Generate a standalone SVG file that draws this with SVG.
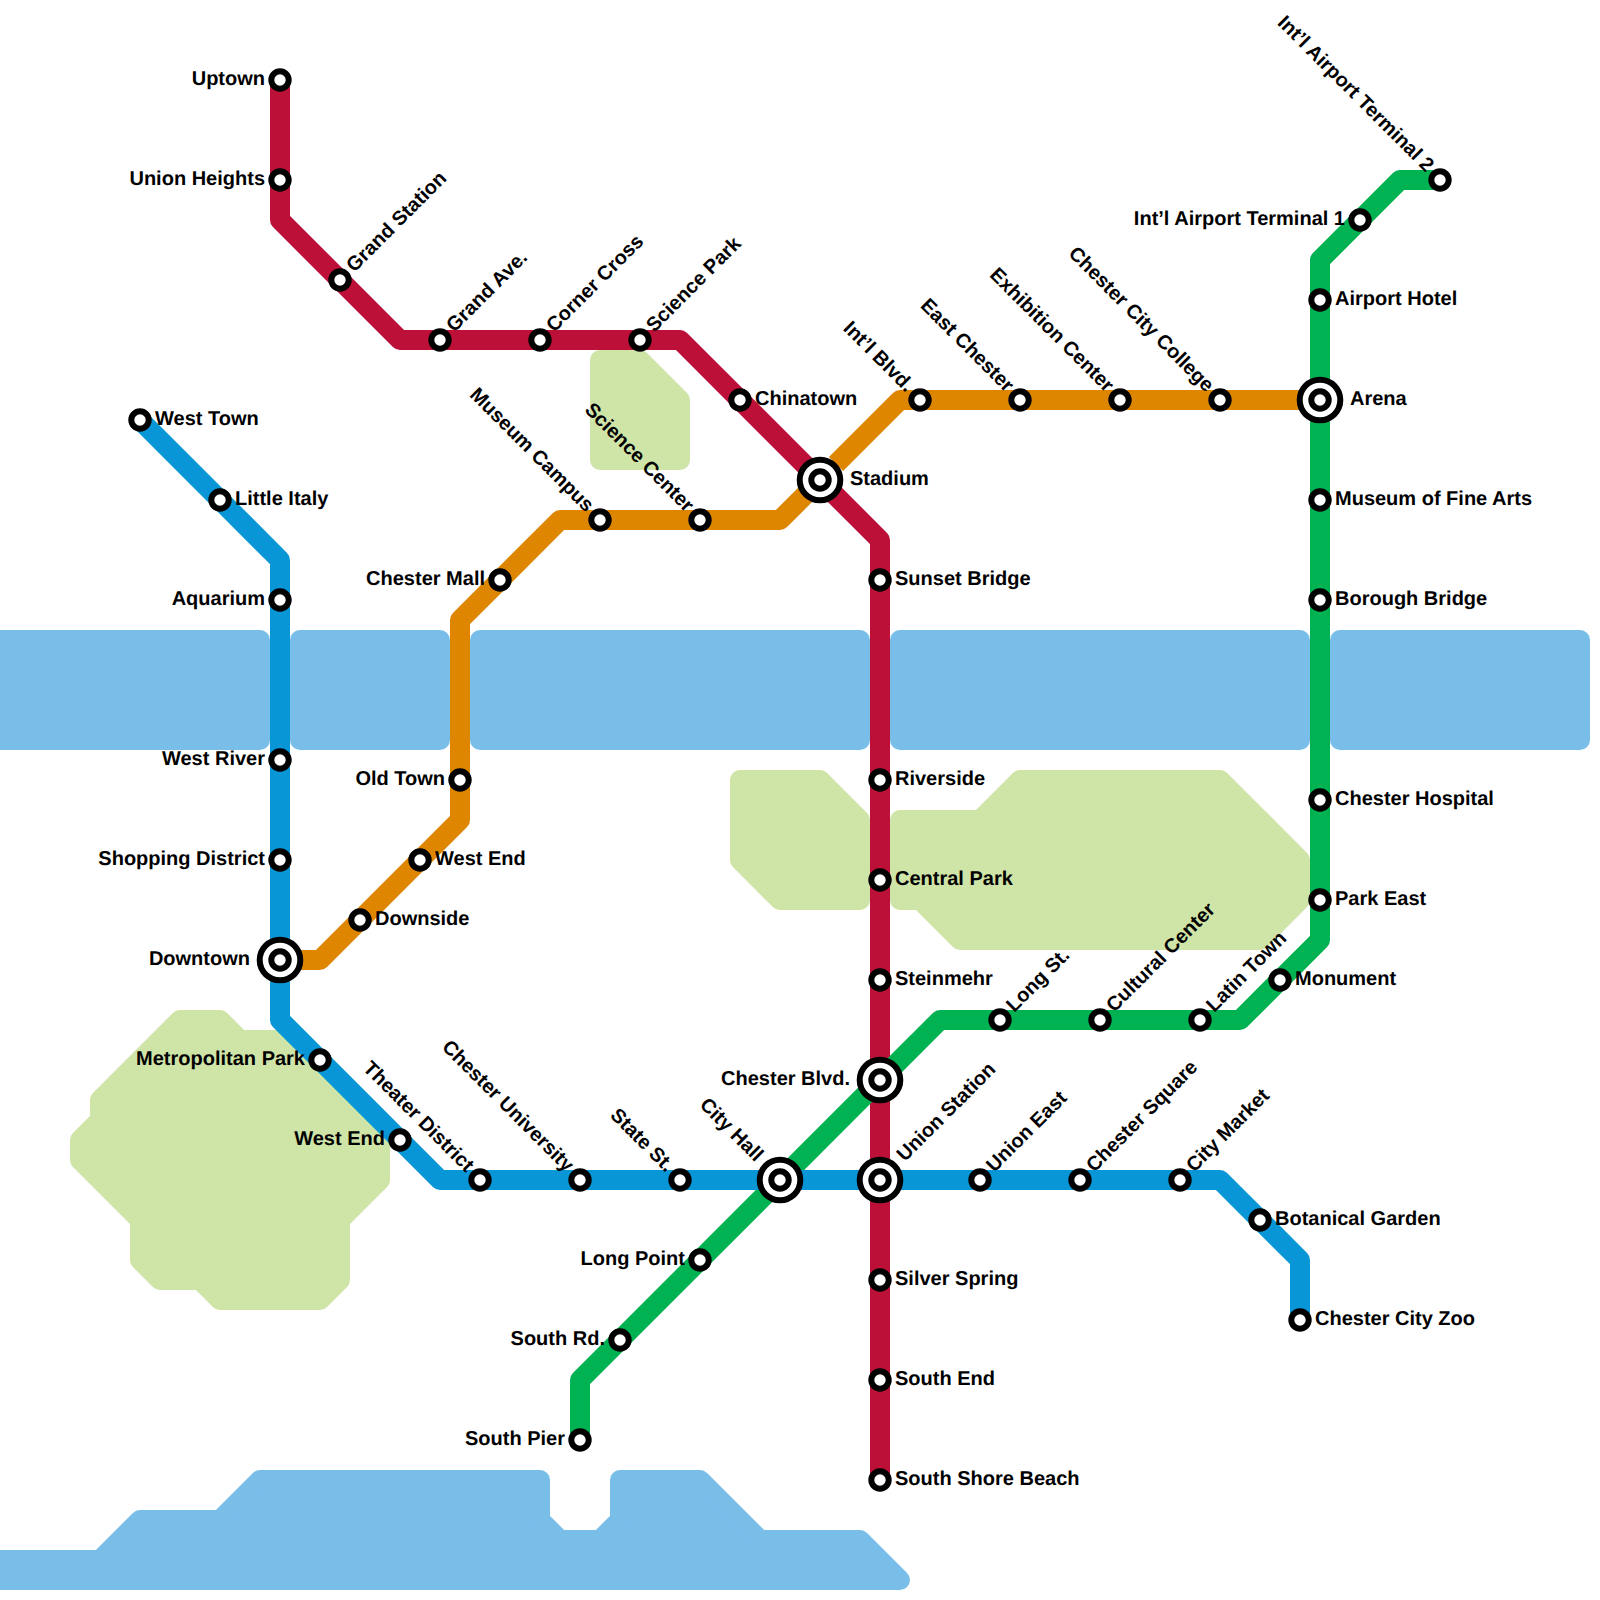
<svg xmlns="http://www.w3.org/2000/svg" width="1600" height="1600" viewBox="0 0 1600 1600">
<style>
.water{fill:#79bde9;stroke:#79bde9;stroke-width:20;stroke-linejoin:round}
.park{fill:#cfe4a7;stroke:#cfe4a7;stroke-width:20;stroke-linejoin:round}
.line{fill:none;stroke-width:20;stroke-linejoin:round}
.ring{fill:#fff;stroke:#000;stroke-width:6}
.outer{fill:#fff;stroke:#000;stroke-width:6}
text{font-family:"Liberation Sans",Arial,sans-serif;font-weight:bold;font-size:20px;fill:#000;text-rendering:geometricPrecision}
.e{text-anchor:end}
</style>
<defs>
<g id="stop"><circle class="ring" r="8.7"/></g>
<g id="hub"><circle class="outer" r="20.3"/><circle class="ring" r="8.7"/></g>
</defs>
<g id="water">
<path class="water" d="M-20 640H260V740H-20Z"/>
<path class="water" d="M300 640H440V740H300Z"/>
<path class="water" d="M480 640H860V740H480Z"/>
<path class="water" d="M900 640H1300V740H900Z"/>
<path class="water" d="M1340 640H1580V740H1340Z"/>
<path class="water" d="M-20 1560H100L140 1520H220L260 1480H540V1520L560 1540H600L620 1520V1480H700L760 1540H860L900 1580H-20Z"/>
</g>
<g id="parks">
<path class="park" d="M600 360H640L680 400V460H600Z"/>
<path class="park" d="M740 780H820L860 820V900H780L740 860Z"/>
<path class="park" d="M900 820H980L1020 780H1220L1300 860V900L1260 940H960L920 900H900Z"/>
<path class="park" d="M180 1020H220L240 1040H280L380 1140V1180L340 1220V1280L320 1300H220L200 1280H160L140 1260V1220L80 1160V1140L100 1120V1100Z"/>
</g>
<g id="connectors">
<path class="line" stroke="#bd1038" d="M280 80V220L400 340H680L880 540V1480"/>
<path class="line" stroke="#df8600" d="M280 960H320L460 820V620L560 520H780L805 495"/>
<path class="line" stroke="#df8600" d="M836 464L900 400H1320"/>
<path class="line" stroke="#00b251" d="M580 1440V1380L940 1020H1240L1320 940V260L1400 180H1440"/>
<path class="line" stroke="#0896d7" d="M140 420L280 560V1020L440 1180H1220L1300 1260V1320"/>
</g>
<g id="n-uptown"><use href="#stop" x="280" y="80"/><text class="e" transform="translate(280 80)" x="-15" y="5">Uptown</text></g>
<g id="n-union-heights"><use href="#stop" x="280" y="180"/><text class="e" transform="translate(280 180)" x="-15" y="5">Union Heights</text></g>
<g id="n-grand-station"><use href="#stop" x="340" y="280"/><text transform="translate(340 280) rotate(-45)" x="15" y="5">Grand Station</text></g>
<g id="n-grand-ave"><use href="#stop" x="440" y="340"/><text transform="translate(440 340) rotate(-45)" x="15" y="5">Grand Ave.</text></g>
<g id="n-corner-cross"><use href="#stop" x="540" y="340"/><text transform="translate(540 340) rotate(-45)" x="15" y="5">Corner Cross</text></g>
<g id="n-science-park"><use href="#stop" x="640" y="340"/><text transform="translate(640 340) rotate(-45)" x="15" y="5">Science Park</text></g>
<g id="n-chinatown"><use href="#stop" x="740" y="400"/><text transform="translate(740 400)" x="15" y="5">Chinatown</text></g>
<g id="n-stadium"><use href="#hub" x="820" y="480"/><text transform="translate(820 480)" x="30" y="5">Stadium</text></g>
<g id="n-sunset-bridge"><use href="#stop" x="880" y="580"/><text transform="translate(880 580)" x="15" y="5">Sunset Bridge</text></g>
<g id="n-riverside"><use href="#stop" x="880" y="780"/><text transform="translate(880 780)" x="15" y="5">Riverside</text></g>
<g id="n-central-park"><use href="#stop" x="880" y="880"/><text transform="translate(880 880)" x="15" y="5">Central Park</text></g>
<g id="n-steinmehr"><use href="#stop" x="880" y="980"/><text transform="translate(880 980)" x="15" y="5">Steinmehr</text></g>
<g id="n-chester-blvd"><use href="#hub" x="880" y="1080"/><text class="e" transform="translate(880 1080)" x="-30" y="5">Chester Blvd.</text></g>
<g id="n-union-station"><use href="#hub" x="880" y="1180"/><text transform="translate(880 1180) rotate(-45)" x="30" y="5">Union Station</text></g>
<g id="n-silver-spring"><use href="#stop" x="880" y="1280"/><text transform="translate(880 1280)" x="15" y="5">Silver Spring</text></g>
<g id="n-south-end"><use href="#stop" x="880" y="1380"/><text transform="translate(880 1380)" x="15" y="5">South End</text></g>
<g id="n-south-shore-beach"><use href="#stop" x="880" y="1480"/><text transform="translate(880 1480)" x="15" y="5">South Shore Beach</text></g>
<g id="n-west-town"><use href="#stop" x="140" y="420"/><text transform="translate(140 420)" x="15" y="5">West Town</text></g>
<g id="n-little-italy"><use href="#stop" x="220" y="500"/><text transform="translate(220 500)" x="15" y="5">Little Italy</text></g>
<g id="n-aquarium"><use href="#stop" x="280" y="600"/><text class="e" transform="translate(280 600)" x="-15" y="5">Aquarium</text></g>
<g id="n-west-river"><use href="#stop" x="280" y="760"/><text class="e" transform="translate(280 760)" x="-15" y="5">West River</text></g>
<g id="n-shopping-district"><use href="#stop" x="280" y="860"/><text class="e" transform="translate(280 860)" x="-15" y="5">Shopping District</text></g>
<g id="n-downtown"><use href="#hub" x="280" y="960"/><text class="e" transform="translate(280 960)" x="-30" y="5">Downtown</text></g>
<g id="n-metropolitan-park"><use href="#stop" x="320" y="1060"/><text class="e" transform="translate(320 1060)" x="-15" y="5">Metropolitan Park</text></g>
<g id="n-west-end-blue"><use href="#stop" x="400" y="1140"/><text class="e" transform="translate(400 1140)" x="-15" y="5">West End</text></g>
<g id="n-theater-district"><use href="#stop" x="480" y="1180"/><text class="e" transform="translate(480 1180) rotate(45)" x="-15" y="5">Theater District</text></g>
<g id="n-chester-university"><use href="#stop" x="580" y="1180"/><text class="e" transform="translate(580 1180) rotate(45)" x="-15" y="5">Chester University</text></g>
<g id="n-state-st"><use href="#stop" x="680" y="1180"/><text class="e" transform="translate(680 1180) rotate(45)" x="-15" y="5">State St.</text></g>
<g id="n-city-hall"><use href="#hub" x="780" y="1180"/><text class="e" transform="translate(780 1180) rotate(45)" x="-30" y="5">City Hall</text></g>
<g id="n-union-east"><use href="#stop" x="980" y="1180"/><text transform="translate(980 1180) rotate(-45)" x="15" y="5">Union East</text></g>
<g id="n-chester-square"><use href="#stop" x="1080" y="1180"/><text transform="translate(1080 1180) rotate(-45)" x="15" y="5">Chester Square</text></g>
<g id="n-city-market"><use href="#stop" x="1180" y="1180"/><text transform="translate(1180 1180) rotate(-45)" x="15" y="5">City Market</text></g>
<g id="n-botanical-garden"><use href="#stop" x="1260" y="1220"/><text transform="translate(1260 1220)" x="15" y="5">Botanical Garden</text></g>
<g id="n-chester-city-zoo"><use href="#stop" x="1300" y="1320"/><text transform="translate(1300 1320)" x="15" y="5">Chester City Zoo</text></g>
<g id="n-downside"><use href="#stop" x="360" y="920"/><text transform="translate(360 920)" x="15" y="5">Downside</text></g>
<g id="n-west-end-orange"><use href="#stop" x="420" y="860"/><text transform="translate(420 860)" x="15" y="5">West End</text></g>
<g id="n-old-town"><use href="#stop" x="460" y="780"/><text class="e" transform="translate(460 780)" x="-15" y="5">Old Town</text></g>
<g id="n-chester-mall"><use href="#stop" x="500" y="580"/><text class="e" transform="translate(500 580)" x="-15" y="5">Chester Mall</text></g>
<g id="n-museum-campus"><use href="#stop" x="600" y="520"/><text class="e" transform="translate(600 520) rotate(45)" x="-15" y="5">Museum Campus</text></g>
<g id="n-science-center"><use href="#stop" x="700" y="520"/><text class="e" transform="translate(700 520) rotate(45)" x="-15" y="5">Science Center</text></g>
<g id="n-intl-blvd"><use href="#stop" x="920" y="400"/><text class="e" transform="translate(920 400) rotate(45)" x="-15" y="5">Int’l Blvd.</text></g>
<g id="n-east-chester"><use href="#stop" x="1020" y="400"/><text class="e" transform="translate(1020 400) rotate(45)" x="-15" y="5">East Chester</text></g>
<g id="n-exhibition-center"><use href="#stop" x="1120" y="400"/><text class="e" transform="translate(1120 400) rotate(45)" x="-15" y="5">Exhibition Center</text></g>
<g id="n-chester-city-college"><use href="#stop" x="1220" y="400"/><text class="e" transform="translate(1220 400) rotate(45)" x="-15" y="5">Chester City College</text></g>
<g id="n-arena"><use href="#hub" x="1320" y="400"/><text transform="translate(1320 400)" x="30" y="5">Arena</text></g>
<g id="n-south-pier"><use href="#stop" x="580" y="1440"/><text class="e" transform="translate(580 1440)" x="-15" y="5">South Pier</text></g>
<g id="n-south-rd"><use href="#stop" x="620" y="1340"/><text class="e" transform="translate(620 1340)" x="-15" y="5">South Rd.</text></g>
<g id="n-long-point"><use href="#stop" x="700" y="1260"/><text class="e" transform="translate(700 1260)" x="-15" y="5">Long Point</text></g>
<g id="n-long-st"><use href="#stop" x="1000" y="1020"/><text transform="translate(1000 1020) rotate(-45)" x="15" y="5">Long St.</text></g>
<g id="n-cultural-center"><use href="#stop" x="1100" y="1020"/><text transform="translate(1100 1020) rotate(-45)" x="15" y="5">Cultural Center</text></g>
<g id="n-latin-town"><use href="#stop" x="1200" y="1020"/><text transform="translate(1200 1020) rotate(-45)" x="15" y="5">Latin Town</text></g>
<g id="n-monument"><use href="#stop" x="1280" y="980"/><text transform="translate(1280 980)" x="15" y="5">Monument</text></g>
<g id="n-park-east"><use href="#stop" x="1320" y="900"/><text transform="translate(1320 900)" x="15" y="5">Park East</text></g>
<g id="n-chester-hospital"><use href="#stop" x="1320" y="800"/><text transform="translate(1320 800)" x="15" y="5">Chester Hospital</text></g>
<g id="n-borough-bridge"><use href="#stop" x="1320" y="600"/><text transform="translate(1320 600)" x="15" y="5">Borough Bridge</text></g>
<g id="n-museum-fine-arts"><use href="#stop" x="1320" y="500"/><text transform="translate(1320 500)" x="15" y="5">Museum of Fine Arts</text></g>
<g id="n-airport-hotel"><use href="#stop" x="1320" y="300"/><text transform="translate(1320 300)" x="15" y="5">Airport Hotel</text></g>
<g id="n-terminal-1"><use href="#stop" x="1360" y="220"/><text class="e" transform="translate(1360 220)" x="-15" y="5">Int’l Airport Terminal 1</text></g>
<g id="n-terminal-2"><use href="#stop" x="1440" y="180"/><text class="e" transform="translate(1440 180) rotate(45)" x="-15" y="5">Int’l Airport Terminal 2</text></g>
</svg>
